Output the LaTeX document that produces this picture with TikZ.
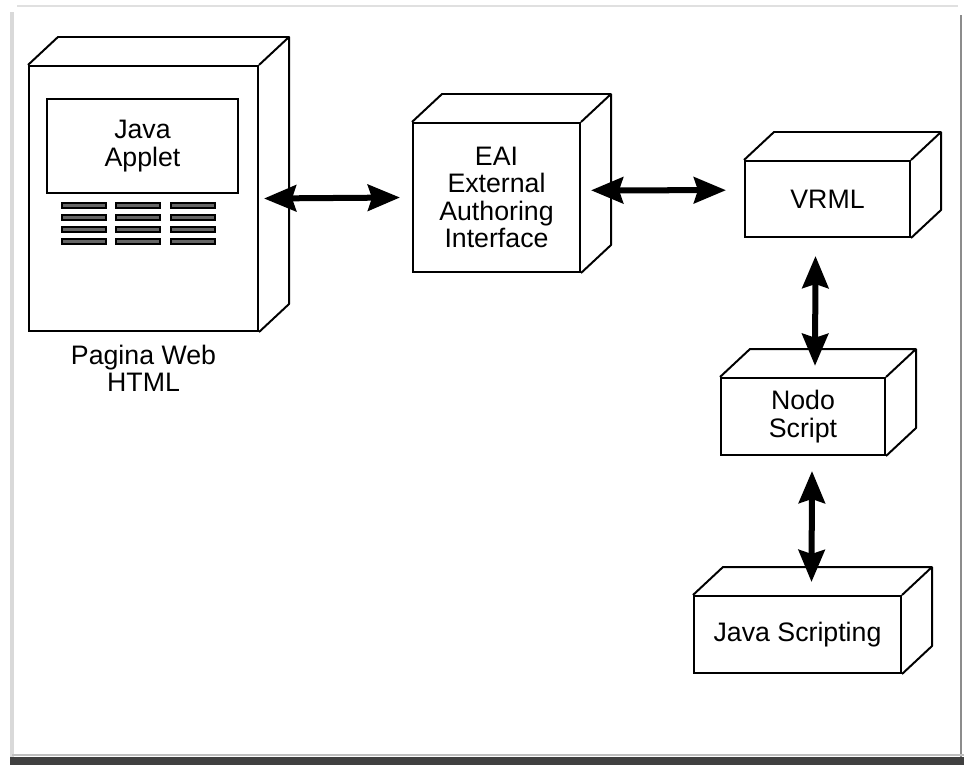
\documentclass[tikz,border=0pt]{standalone}
\usepackage{fontspec}
\setmainfont{Liberation Sans}
\usetikzlibrary{arrows.meta, positioning, calc}

% top and right faces of a box
\newcommand\boxdepth[1]{%
\draw [line width=1.4pt, line join=round] (#1.north west) -- ++(30,-28)
  -| ($(#1.south east)+(30,-28)$) -- (#1.south east)
  (#1.north east) -- ++(30,-28);}

\begin{document}
\begin{tikzpicture}[x=0.025cm, y=-0.025cm,
  face/.style={draw, line width=1.4pt, align=center, inner sep=0pt,
    font=\fontsize{19}{19.6}\selectfont},
  tip/.tip={Stealth[length=0.8cm, width=0.65cm, inset=0.1cm]},
  link/.style={tip-tip, line width=0.15cm}]
\useasboundingbox (0,0) rectangle (964,765);

% frame
\draw [black!12, line width=0.05cm] (17,6) -- (958,6);
\draw [black!15, line width=0.1cm] (12,12) -- (12,757);
\draw [black!45, line width=0.05cm] (961,15) -- (961,757);
\draw [black!25, line width=0.05cm] (12,755) -- (964,755);
\fill [black!75] (10,757) rectangle (964,765);

\node (pag) [face, minimum width=5.725cm, minimum height=6.625cm] at (143.5,198.5) {};
\boxdepth{pag}
\node (applet) [face, minimum width=4.775cm, minimum height=2.35cm] at (142.5,146) {Java\\Applet};
\foreach \x in {62,116,171}
  \foreach \y in {205,217,229,241}
    \draw [fill=black!60, line width=1pt] (\x,\y-2) rectangle ++(44,5);
\node (capt) [below=0.2cm of pag, align=center, font=\fontsize{19}{19.6}\selectfont] {Pagina Web\\HTML};

\node (eai) [face, minimum width=4.175cm, minimum height=3.725cm] at (496.5,197.5) {EAI\\External\\Authoring\\Interface};
\boxdepth{eai}
\node (vrml) [face, minimum width=4.125cm, minimum height=1.9cm] at (827.5,199) {VRML};
\boxdepth{vrml}
\node (nodo) [face, minimum width=4.1cm, minimum height=1.925cm] at (803,416.5) {Nodo\\Script};
\boxdepth{nodo}
\node (jscr) [face, minimum width=5.175cm, minimum height=1.925cm] at (797.5,634.5) {Java Scripting};
\boxdepth{jscr}

\draw [link] ([xshift=0.125cm]pag.east) -- ([xshift=-0.3cm]eai.west);
\draw [link] ([shift={(0.25cm,0.18cm)}]eai.east) -- ([shift={(-0.45cm,0.22cm)}]vrml.west);
\draw [link] ([shift={(-0.3cm,-0.45cm)}]vrml.south) -- ([shift={(0.3cm,0.28cm)}]nodo.north);
\draw [link] ([shift={(0.225cm,-0.375cm)}]nodo.south) -- ([shift={(0.35cm,0.325cm)}]jscr.north);
\end{tikzpicture}
\end{document}
